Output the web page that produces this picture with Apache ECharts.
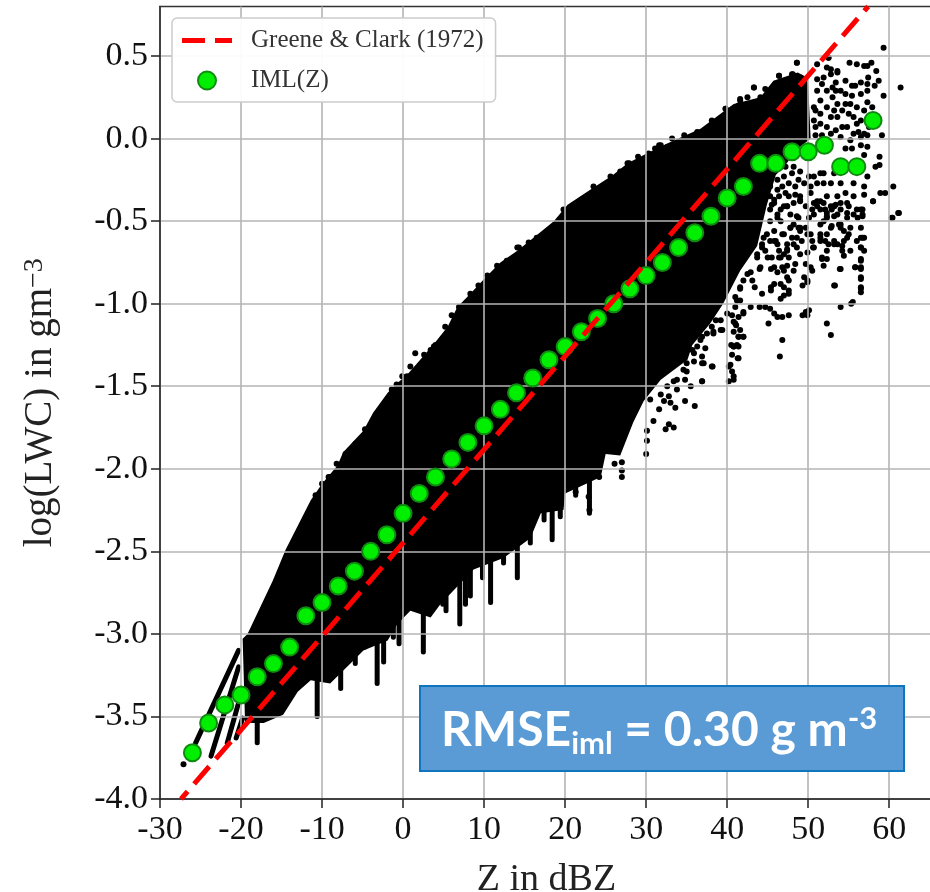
<!DOCTYPE html>
<html>
<head>
<meta charset="utf-8">
<title>log(LWC) vs Z</title>
<script src="https://cdn.jsdelivr.net/npm/echarts@6/dist/echarts.min.js"></script>
<style>
  html, body { margin: 0; padding: 0; background: #fff; }
  #main { width: 930px; height: 892px; }
</style>
</head>
<body>
<div id="main"></div>
<script>
const xTicks = [-30, -20, -10, 0, 10, 20, 30, 40, 50, 60]
const yTicks = [-4, -3.5, -3, -2.5, -2, -1.5, -1, -0.5, 0, 0.5]

// Greene & Clark (1972) end points, [Z, log(LWC)]
const greeneClark = [[-27.4, -4], [57.4, 0.8]]

// IML(Z) bin means
const imlZ = [-26, -24, -22, -20, -18, -16, -14, -12, -10, -8, -6, -4, -2, 0, 2, 4, 6, 8, 10, 12, 14, 16, 18, 20,
  22, 24, 26, 28, 30, 32, 34, 36, 38, 40, 42, 44, 46, 48, 50, 52, 54, 56, 58]
const imlLwc = [-3.72, -3.54, -3.43, -3.37, -3.26, -3.18, -3.08, -2.89, -2.81, -2.71, -2.62, -2.5, -2.4, -2.27, -2.15,
  -2.05, -1.94, -1.84, -1.74, -1.64, -1.54, -1.45, -1.34, -1.26, -1.17, -1.09, -1, -0.91, -0.83, -0.75, -0.66, -0.57,
  -0.47, -0.36, -0.29, -0.15, -0.15, -0.08, -0.08, -0.04, -0.17, -0.17, 0.11]

// solid part of the sample cloud: upper edge left to right, then lower edge back
const cloudTop = [[-19.8, -3.03], [-19.2, -3], [-16.1, -2.68], [-14.5, -2.49], [-11.4, -2.19], [-10, -2.09], [-8.1, -1.98],
  [-7.4, -1.9], [-4.9, -1.77], [-3.7, -1.66], [-1.9, -1.54], [-0.7, -1.48], [0.5, -1.43], [3.7, -1.25], [5.5, -1.14],
  [6.7, -1.02], [8.3, -0.94], [10.2, -0.84], [12, -0.75], [14.1, -0.68], [16.1, -0.6], [18.6, -0.5], [20.3, -0.4],
  [23.1, -0.31], [25.9, -0.22], [27.7, -0.15], [30.5, -0.08], [33, -0.02], [36.7, 0.06], [40.8, 0.21], [44.1, 0.25],
  [45.7, 0.35], [48.7, 0.4], [49.9, 0.37]]
const cloudBottom = [[50, 0.32], [50.3, 0], [48.5, -0.07], [47.2, -0.16], [46, -0.22], [44.9, -0.4], [43.7, -0.65],
  [41.6, -0.8], [39.5, -1], [37.9, -1.12], [35.7, -1.25], [35.1, -1.34], [31.8, -1.46], [29.7, -1.59], [28.4, -1.72],
  [26.8, -1.92], [25, -1.91], [24.4, -2.05], [20, -2.15], [19.8, -2.25], [17, -2.27], [15.7, -2.42], [12.4, -2.54],
  [8.7, -2.61], [4.6, -2.82], [3.4, -2.9], [0.9, -2.86], [-0.7, -2.94], [-1.9, -3.04], [-4.9, -3.1], [-6.5, -3.18],
  [-9, -3.3], [-11.4, -3.28], [-13, -3.35], [-14.8, -3.49], [-17.2, -3.54], [-19.5, -3.54]]

// thin streaks at the low end and the drips under the cloud, [z1, y1, z2, y2]
const streaks = [[-25.6, -3.66, -20.3, -3.1], [-23.7, -3.74, -20.3, -3.2], [-21.7, -3.66, -20.2, -3.4], [-20.6, -3.63, -19.8, -3.51],
  [-18, -3.66, -18, -3.5], [-10.6, -3.5, -10.6, -3.2], [-7.7, -3.33, -7.7, -3.1], [-5.9, -3.18, -5.9, -3.05],
  [-3.2, -3.3, -3.2, -3], [-2.4, -3.17, -2.4, -3], [-0.5, -3.06, -0.5, -2.85], [2.5, -3.11, 2.5, -2.85], [5.3, -2.86, 5.3, -2.7],
  [7, -2.94, 7, -2.65], [8.3, -2.77, 8.3, -2.55], [9.8, -2.66, 9.8, -2.5], [10.8, -2.81, 10.8, -2.55], [14.1, -2.66, 14.1, -2.43],
  [18.4, -2.43, 18.4, -2.25], [21.3, -2.16, 21.3, -2.05], [23, -2.27, 23, -2],
  [-4.7, -3.08, -4.7, -2.95], [-1.2, -3.02, -1.2, -2.9], [4.9, -2.82, 4.9, -2.7], [7.7, -2.82, 7.7, -2.65],
  [12.4, -2.57, 12.4, -2.45], [15.7, -2.45, 15.7, -2.35], [17.4, -2.31, 17.4, -2.2], [19.4, -2.29, 19.4, -2.2]]

// single samples around the cloud
const strayPoints = [[-27.1, -3.79],
  [61.2, -0.45], [60.4, -0.48], [58, -0.38], [56.7, -0.43], [56, -0.43], [56.7, -0.47], [54.8, -0.39], [54, -0.43], [53.4, -0.4],
  [52.1, -0.43], [52.3, -0.47], [52.9, -0.53], [51.5, -0.58], [52.1, -0.62], [52.5, -0.64], [53.6, -0.64], [54.2, -0.65],
  [54.8, -0.6], [54.4, -0.56], [53.8, -0.52], [53.2, -0.47], [55.2, -0.68], [54.4, -0.71], [56.7, -0.6], [56.5, -0.66],
  [56.9, -0.68], [56.5, -0.74], [55.8, -0.78], [56.5, -0.79], [56.5, -0.85], [56.5, -0.9], [56.5, -0.93], [54, -0.79],
  [51.9, -0.77], [51.7, -0.73], [52.3, -0.73], [53.2, -0.89], [55.5, -0.99], [55.3, -1], [54, -1.02], [52.3, -1.12], [52.8, -1.19],
  [50.5, -0.62], [50.6, -0.66], [49.9, -0.69], [48.6, -0.66], [49.7, -0.76], [50.5, -0.8], [49.5, -0.84], [49.9, -0.87],
  [49.3, -0.89], [49.7, -1.05], [50.1, -1.04], [49.3, -1.07], [49.9, -1.07], [46.8, -1.22], [46.5, -1.32], [45.1, -1.12],
  [47.6, -1.07], [46.8, -1.08], [46.2, -1.08], [45.8, -1.06], [45.3, -1.03], [44.7, -1.02], [44, -1.02], [42.9, -1.02],
  [47.6, -0.92], [46.6, -0.97], [47, -0.95], [47.6, -0.86], [46.6, -0.88], [45.8, -0.88], [45.4, -0.9], [44.3, -0.94],
  [43.4, -0.9], [43.1, -0.86], [44, -0.79], [45.4, -0.79], [46.2, -0.81], [47, -0.8], [47.4, -0.77], [48.4, -0.76],
  [46.6, -0.72], [47.6, -0.72], [48.2, -0.8], [42.9, -0.81], [42, -0.86], [41.6, -0.91], [41, -0.96], [41.6, -0.98],
  [41, -1.02], [42, -1.05], [40.6, -1.07], [41.4, -1.08], [41.1, -1.13], [40.8, -1.17], [42, -1.2], [41.4, -1.2],
  [39.4, -1.16], [38.3, -1.18], [40.8, -1.26], [41.4, -1.26], [40.6, -1.31], [41.3, -1.33], [40.4, -1.37], [40.6, -1.41],
  [40.8, -1.46], [40.2, -1.47], [38.2, -1.38], [37.1, -1.36], [36.9, -1.47], [36.9, -1.2], [38.1, -1.14],
  [45.5, -0.4], [46.6, -0.43], [47.4, -0.41], [49, -0.38], [48.6, -0.47], [48.2, -0.52], [49, -0.56], [47.4, -0.64],
  [46.4, -0.68], [47, -0.7], [45.5, -0.72], [48.6, -0.6], [49.7, -0.54], [49.9, -0.58], [50.5, -0.43], [50.7, -0.39],
  [51.5, -0.38], [51.9, -0.5], [52.9, -0.43], [44.9, -0.58], [44.3, -0.64], [43.7, -0.7], [44.7, -0.68], [46, -0.62],
  [59.3, 0.55], [48.6, 0.46], [52.5, 0.49], [55.1, 0.46], [56, 0.45], [56.9, 0.44], [57.3, 0.44], [57.8, 0.46], [58.4, 0.41],
  [57.4, 0.37], [58.7, 0.35], [58.2, 0.32], [61.4, 0.31], [59.3, 0.26], [55.8, 0.32], [54.6, 0.35], [53.4, 0.34], [57.3, 0.29],
  [56.5, 0.27], [55.4, 0.26], [54, 0.29], [52.8, 0.39], [53.6, 0.41], [52.3, 0.43], [51.7, 0.33], [51.1, 0.29], [53, 0.25],
  [51.5, 0.23], [53.6, 0.21], [54.6, 0.21], [56, 0.19], [57.3, 0.22], [57.9, 0.19], [55.6, 0.13], [56.5, 0.11], [53.6, 0.13],
  [54.8, 0.07], [52.8, 0.13], [51.5, 0.15], [50.9, 0.07], [53.4, 0.05], [52.3, 0.07], [55.6, 0.03], [56.9, 0.03], [57.5, 0.07],
  [59.1, 0.02], [54.6, -0.06], [55.4, -0.06], [56.5, -0.04], [57.3, -0.05], [56.9, -0.1], [58.8, -0.11], [58.8, -0.16],
  [58.3, -0.17], [53.2, -0.21], [51.5, -0.21], [50.7, -0.23], [51.9, -0.27], [57.3, -0.23], [56.9, -0.29], [55.6, -0.27],
  [54, -0.27], [54.6, -0.33], [55.6, -0.35], [56.9, -0.34], [58, -0.38], [60.5, -0.29], [58.9, -0.33], [59.5, -0.33],
  [61.1, -0.45], [60.3, -0.48], [51.1, -0.38], [52.3, -0.35], [53.2, -0.41], [54, -0.39], [51.5, -0.43], [55, -0.41],
  [56.5, -0.43], [50.3, -0.33], [49.7, -0.41], [50.1, -0.48], [49, -0.35], [48.4, -0.29], [49.5, -0.27], [48.2, -0.39],
  [48.8, -0.48], [48, -0.21], [49, -0.2], [47.8, -0.46], [47.2, -0.33], [46.4, -0.35], [47, -0.41], [45.8, -0.39],
  [46.2, -0.46], [45.3, -0.43], [47.6, -0.27], [39.8, 0.18], [41.6, 0.24], [43.3, 0.31], [44.1, 0.25], [46.4, 0.38],
  [45.5, 0.3], [48.1, 0.39], [47, 0.31], [41.4, 0.2], [42.5, 0.25], [44.7, 0.3], [40.4, 0.15],
  [38.1, -1.38], [36.9, -1.36], [34.8, -1.59], [36, -1.62], [33.4, -1.75], [32.4, -1.76], [32.8, -1.73], [33.8, -1.52],
  [35.5, -1.5], [36.9, -1.47], [34.8, -1.46], [30.1, -1.77], [30.1, -1.83], [30, -1.91], [26.1, -1.97], [27, -1.96],
  [27, -2.01], [27, -2.05], [23, -2.25], [22.9, -2.17], [21.3, -2.14], [24.2, -2.05], [32.2, -1.59], [31.6, -1.64],
  [33, -1.6], [33.6, -1.63], [30.9, -1.71], [30.5, -1.58], [31.8, -1.55], [32.8, -1.56], [32.6, -1.5], [33.4, -1.47],
  [35, -1.41], [35, -1.36], [35.9, -1.35], [35.7, -1.28], [36.9, -1.32], [37.3, -1.27], [36.7, -1.22], [38.3, -1.17],
  [39.2, -1.1], [40, -1.06], [39.2, -1.16], [40.8, -1.11], [41.6, -1.16], [42, -1.2], [41.2, -1.25], [40.5, -1.25], [41.4, -1.33],
  [1.5, -1.3], [2.6, -1.31], [4, -1.25], [0.9, -1.38], [-0.1, -1.44], [-2, -1.6], [-3.4, -1.75], [-7.1, -1.91], [-9, -2.05],
  [29, -0.11], [31.8, -0.04], [33.2, 0], [27.9, -0.15], [25.6, -0.23], [14.1, -0.66], [11.6, -0.77],
  [45.3, -0.5], [46.6, -0.5], [47.8, -0.54], [48.8, -0.54], [45.8, -0.56], [47, -0.58], [45.3, -0.62], [48, -0.6], [49.2, -0.62],
  [46.2, -0.64], [44.5, -0.6], [44.3, -0.66], [47.4, -0.67], [45.3, -0.29], [46.2, -0.25], [47, -0.23], [47.2, -0.17], [48.2, -0.17],
  [48.8, -0.25], [46.2, -0.31], [45.3, -0.35], [46.8, -0.29], [47.6, -0.35], [48.4, -0.34], [50.1, -0.23], [50.3, -0.29],
  [51.1, -0.27], [51.9, -0.21], [52.8, -0.27], [53.6, -0.35], [52.8, -0.41], [51.9, -0.39], [50.7, -0.46], [52.3, -0.48],
  [53.6, -0.46], [54.8, -0.48], [55.6, -0.46], [56.7, -0.46], [54, -0.54], [55.2, -0.54], [56.5, -0.54], [52.8, -0.54],
  [51.5, -0.52], [50.3, -0.58], [51.5, -0.6], [53.2, -0.62], [54.4, -0.62], [56, -0.62], [56.9, -0.6],
  [50.7, 0.19], [51.5, 0.09], [52.3, 0.19], [53.2, 0.17], [54.2, 0.17], [55.2, 0.21], [55, 0.15], [56, 0.09], [56.9, 0.17],
  [57.7, 0.13], [57.3, 0.33], [56.5, 0.34], [55.4, 0.32], [54.6, 0.27], [53.4, 0.29], [52.3, 0.29], [51.9, 0.37], [51.1, 0.36],
  [53, 0.31], [50.9, 0.17], [50.7, 0.11], [54.2, 0.07], [56.2, 0.04], [54, 0.01], [52.8, 0.03], [51.7, 0.02], [50.9, 0.02],
  [55.2, -0.01], [56.5, 0.01], [57.3, 0.02],
  // rim of the solid cloud
  [3.8, -1.26], [5.2, -1.14], [6, -1.07], [6.9, -1.02], [8.3, -0.94], [9.3, -0.89], [10.4, -0.83], [12.8, -0.74], [14.3, -0.66],
  [15.5, -0.63], [16.5, -0.6], [19.8, -0.43], [21.1, -0.4], [23.5, -0.29], [26.8, -0.2], [30.3, -0.09], [31.1, -0.06], [32.6, -0.05],
  [-8.2, -1.97], [-5.9, -1.85], [-4.7, -1.76], [-3.2, -1.67], [-2.4, -1.62], [-1.4, -1.52], [-0.8, -1.49], [0.5, -1.44],
  [2.1, -1.39], [3.4, -1.28], [-10, -2.09], [-9.2, -2.05], [-10.8, -2.16], [27.7, -0.15], [30.5, -0.1], [31.6, -0.04],
  [33, -0.05], [34.7, 0.02], [36.3, 0.04], [38.1, 0.11], [39.8, 0.18], [41.6, 0.23], [43.3, 0.31], [45.6, 0.3], [46.4, 0.38],
  [48, 0.39], [49, 0.37], [48.6, 0.46], [52.5, 0.49], [51.1, 0.45], [52.8, 0.42], [53.6, 0.4],
  // dense patch right of the solid cloud
  [45.8, -0.37], [47.4, -0.41], [49, -0.37], [46.2, -0.48], [47.8, -0.54], [49, -0.54], [46.8, -0.58], [45.8, -0.62],
  [48.2, -0.64], [47.4, -0.68], [46.4, -0.72], [49, -0.7], [46.8, -0.78], [47.4, -0.84], [45.8, -0.78], [47, -0.9], [47.6, -0.94],
  [45.4, -0.92], [44.1, -0.78], [45, -0.72], [43.7, -0.72], [42.5, -0.82], [41.6, -0.9], [41.2, -0.98], [42, -1.06], [41, -1.12],
  [41.4, -1.2], [40.8, -1.26], [40.2, -1.38], [40.8, -1.44], [39.2, -0.94], [38.6, -1.1], [37.5, -1.18], [36.3, -1.26],
  [35.3, -1.22], [35.9, -1.3], [34.6, -1.4], [33.8, -1.46],
  [51.1, -0.41], [52.3, -0.45], [53.2, -0.41], [54.8, -0.45], [56.1, -0.48], [54, -0.52], [52.3, -0.58], [53.2, -0.64],
  [55, -0.58], [56.5, -0.6], [51.5, -0.62], [50.7, -0.66], [52.3, -0.68], [54.2, -0.68], [56.5, -0.66], [51.7, -0.72],
  [56.5, -0.73], [50.3, -0.78], [49.9, -0.86], [56.5, -0.78], [56.5, -0.84], [56.5, -0.91], [53.9, -0.79], [55.8, -0.78], [53.3, -0.89]]

const serif = '"Liberation Serif", serif'
const cloudOutline = cloudTop.concat(cloudBottom)

let chart = echarts.init(document.getElementById('main'), null, { renderer: 'canvas' })

let option = {
  animation: false,
  backgroundColor: '#fff',
  grid: {
    left: 160,
    top: 6.5,
    bottom: 93,
    right: -3,
    outerBoundsMode: 'none',
    show: true,
    borderColor: '#333',
    borderWidth: 1.5,
    backgroundColor: 'transparent'
  },
  legend: {
    left: 172,
    top: 18,
    orient: 'vertical',
    z: 20,
    data: [
      {
        name: 'Greene & Clark (1972)',
        icon: 'path://M0 0H23V5H0ZM33 0H50V5H33Z',
        itemStyle: { color: '#ff0000' }
      },
      { name: 'IML(Z)' }
    ],
    itemWidth: 50,
    itemHeight: 18,
    itemGap: 15,
    padding: [10, 12, 9, 10],
    backgroundColor: 'rgba(255,255,255,0.95)',
    borderColor: '#ccc',
    borderWidth: 1.5,
    borderRadius: 5,
    textStyle: {
      fontFamily: serif,
      fontSize: 25,
      color: '#333',
      padding: [0, 0, 0, 14]
    }
  },
  xAxis: {
    type: 'value',
    min: -30,
    max: 65.4,
    z: 5,
    name: 'Z in dBZ',
    nameLocation: 'middle',
    nameGap: 62,
    nameTextStyle: { fontFamily: serif, fontSize: 38, color: '#222' },
    axisLine: { onZero: false, lineStyle: { color: '#222', width: 1.5 } },
    axisTick: { length: 9, customValues: xTicks, lineStyle: { color: '#222', width: 1.5 } },
    axisLabel: { customValues: xTicks, margin: 14, fontFamily: serif, fontSize: 34, color: '#111' },
    splitLine: { show: true, lineStyle: { color: '#b4b4b4', width: 1.6 } }
  },
  yAxis: {
    type: 'value',
    min: -4,
    max: 0.8,
    z: 5,
    name: 'log(LWC) in gm{sup|\u22123}',
    nameLocation: 'middle',
    nameGap: 100,
    nameRotate: 90,
    nameTextStyle: {
      fontFamily: serif,
      fontSize: 39,
      color: '#222',
      rich: {
        sup: { fontFamily: serif, fontSize: 28, color: '#222', verticalAlign: 'top', lineHeight: 36 }
      }
    },
    axisLine: { onZero: false, lineStyle: { color: '#222', width: 1.5 } },
    axisTick: { length: 9, customValues: yTicks, lineStyle: { color: '#222', width: 1.5 } },
    axisLabel: {
      customValues: yTicks,
      margin: 12,
      fontFamily: serif,
      fontSize: 34,
      color: '#111',
      formatter: v => v.toFixed(1)
    },
    splitLine: { show: true, lineStyle: { color: '#b4b4b4', width: 1.6 } }
  },
  series: [
    {
      name: 'cloud',
      type: 'custom',
      z: 1,
      clip: true,
      data: cloudOutline,
      encode: { x: 0, y: 1 },
      renderItem: (params, api) => {
        if (params.dataIndex !== 0) return
        return {
          type: 'polygon',
          shape: { points: cloudOutline.map(p => api.coord(p)) },
          style: { fill: '#000' }
        }
      }
    },
    {
      name: 'streaks',
      type: 'custom',
      z: 1,
      clip: true,
      data: streaks,
      encode: { x: [0, 2], y: [1, 3] },
      renderItem: (params, api) => {
        let a = api.coord([api.value(0), api.value(1)])
        let b = api.coord([api.value(2), api.value(3)])
        return {
          type: 'line',
          shape: { x1: a[0], y1: a[1], x2: b[0], y2: b[1] },
          style: { stroke: '#000', lineWidth: 5, lineCap: 'round', fill: null }
        }
      }
    },
    {
      name: 'samples',
      type: 'scatter',
      z: 1,
      symbolSize: 6,
      itemStyle: { color: '#000', opacity: 1 },
      data: strayPoints
    },
    {
      name: 'IML(Z)',
      type: 'scatter',
      z: 7,
      symbolSize: 17,
      itemStyle: { color: '#00ee00', borderColor: '#118a11', borderWidth: 2, opacity: 1 },
      data: imlZ.map((z, i) => [z, imlLwc[i]])
    },
    {
      name: 'Greene & Clark (1972)',
      type: 'line',
      z: 8,
      symbol: 'none',
      lineStyle: { color: '#ff0000', width: 5, type: [23, 10], dashOffset: 13 },
      data: greeneClark
    }
  ],
  graphic: [
    {
      type: 'rect',
      left: 419,
      top: 685,
      z: 30,
      shape: { width: 484, height: 85 },
      style: { fill: '#5b9bd5', stroke: '#0f75bd', lineWidth: 2 }
    },
    {
      type: 'text',
      left: 441,
      top: 703,
      z: 31,
      style: {
        text: '{a|RMSE}{b|iml}{a| = 0.30 g m}{c|-3}',
        rich: {
          a: { fontFamily: 'Lato', fontWeight: 'bold', fontSize: 48, fill: '#fff', color: '#fff', lineHeight: 56 },
          b: { fontFamily: 'Lato', fontWeight: 'bold', fontSize: 31, fill: '#fff', color: '#fff', verticalAlign: 'bottom', lineHeight: 30 },
          c: { fontFamily: 'Lato', fontWeight: 'bold', fontSize: 31, fill: '#fff', color: '#fff', verticalAlign: 'top', lineHeight: 30 }
        }
      }
    }
  ]
}

chart.setOption(option)
</script>
</body>
</html>
